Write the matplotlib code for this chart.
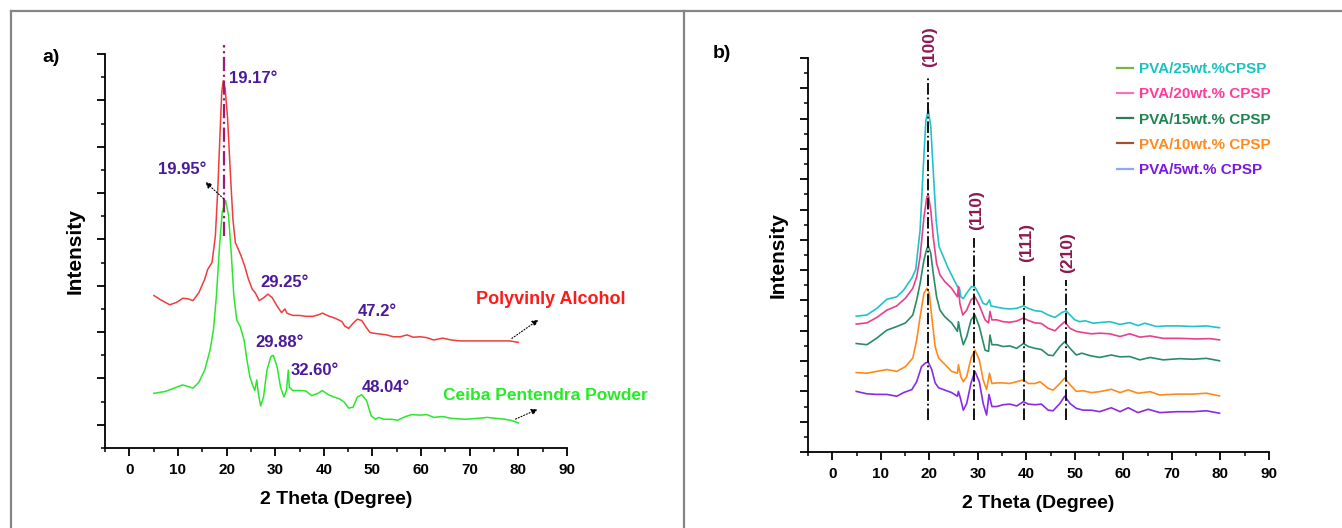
import matplotlib
matplotlib.use("Agg")
import matplotlib.pyplot as plt
from matplotlib.lines import Line2D
from matplotlib.ticker import MultipleLocator

plt.rcParams['font.family'] = ['Liberation Sans', 'DejaVu Sans']
plt.rcParams['font.weight'] = 'bold'

# ---- panel a data (2 theta, offset intensity) ----
pva_x = [5.06, 6.4, 8.3, 9.7, 11.0, 12.0, 13.1, 14.3, 15.5, 16.1, 17.0, 17.7, 18.2, 18.7, 19.0,
         19.3, 19.7, 20.2, 20.8, 21.3, 21.8, 22.4, 23.0, 23.7, 24.5, 25.3, 25.9, 26.7, 27.6, 28.5,
         29.4, 30.4, 31.3, 32.0, 32.4, 33.6, 35.0, 36.3, 37.7, 38.8, 39.7, 40.9, 42.3, 43.7, 44.3,
         45.1, 46.0, 46.9, 47.8, 48.6, 49.5, 50.6, 51.5, 52.9, 54.3, 55.7, 57.1, 58.4, 59.8, 61.2,
         62.6, 64.4, 66.2, 68.1, 70.8, 73.6, 76.4, 78.2, 80.0]
pva_y = [2.79, 2.70, 2.59, 2.64, 2.73, 2.72, 2.68, 2.85, 3.14, 3.35, 3.50, 4.08, 5.10, 6.40, 7.17,
         7.42, 7.26, 6.62, 5.39, 4.44, 3.93, 3.79, 3.64, 3.43, 3.14, 2.92, 2.85, 2.68, 2.74, 2.82,
         2.74, 2.56, 2.42, 2.50, 2.41, 2.36, 2.36, 2.34, 2.34, 2.37, 2.41, 2.35, 2.30, 2.23, 2.13,
         2.08, 2.19, 2.28, 2.25, 2.12, 1.99, 1.97, 1.96, 1.94, 1.90, 1.90, 1.94, 1.89, 1.90, 1.88,
         1.83, 1.87, 1.83, 1.81, 1.81, 1.81, 1.81, 1.81, 1.78]

cpp_x = [5.06, 7.4, 9.2, 10.9, 12.0, 13.1, 14.3, 15.5, 16.6, 17.3, 17.9, 18.6, 19.1, 19.8, 20.4,
         21.0, 21.5, 22.1, 22.8, 23.6, 24.2, 24.8, 25.4, 25.8, 26.2, 26.5, 27.0, 27.6, 28.3, 29.1,
         29.6, 30.4, 31.1, 31.8, 32.3, 32.7, 32.9, 33.6, 35.0, 36.3, 37.5, 38.8, 39.7, 40.9, 42.1,
         43.2, 44.2, 45.1, 46.0, 46.9, 47.8, 48.8, 49.7, 50.6, 51.3, 52.4, 53.8, 55.2, 56.6, 58.0,
         59.8, 61.2, 62.6, 64.4, 66.2, 69.0, 71.8, 73.6, 75.4, 77.3, 78.7, 80.0]
cpp_y = [0.68, 0.72, 0.79, 0.86, 0.83, 0.79, 0.92, 1.18, 1.61, 2.05, 2.77, 3.93, 4.59, 4.84, 4.52,
         3.64, 2.77, 2.26, 2.12, 1.83, 1.39, 1.03, 0.85, 0.74, 0.97, 0.70, 0.41, 0.60, 1.18, 1.47,
         1.50, 1.25, 0.81, 0.60, 0.74, 1.18, 0.81, 0.74, 0.74, 0.73, 0.63, 0.68, 0.74, 0.65, 0.60,
         0.56, 0.49, 0.36, 0.38, 0.60, 0.65, 0.52, 0.20, 0.12, 0.16, 0.12, 0.12, 0.10, 0.17, 0.22,
         0.21, 0.22, 0.16, 0.18, 0.14, 0.12, 0.14, 0.16, 0.14, 0.12, 0.09, 0.04]

peak_labels_a = ["19.17°", "19.95°", "29.25°", "47.2°", "29.88°", "32.60°", "48.04°"]
peak_pos_a = [(20.4, 7.48), (6.0, 5.5), (27.0, 3.08), (46.9, 2.45), (25.9, 1.78), (33.1, 1.18), (47.8, 0.81)]

# ---- panel b data ----
c25_x = [4.94, 7.13, 9.19, 11.25, 13.3, 14.7, 16.4, 17.2, 18.1, 18.8, 19.3, 19.8, 20.3, 20.8, 21.4,
         22.0, 22.9, 23.9, 24.9, 25.8, 26.2, 26.5, 27.0, 27.7, 28.7, 29.4, 30.1, 31.1, 31.8, 32.4,
         32.7, 33.9, 35.2, 36.6, 38.0, 39.4, 40.4, 41.8, 43.1, 44.5, 45.9, 47.3, 48.2, 49.0, 50.0,
         51.0, 52.1, 53.8, 55.1, 57.2, 59.3, 61.3, 63.0, 64.4, 66.8, 68.9, 71.6, 74.3, 77.1, 79.8]
c25_y = [4.48, 4.52, 4.74, 5.04, 5.12, 5.34, 5.74, 6.02, 7.32, 9.52, 10.96, 11.28, 10.74, 9.30, 7.66,
         6.78, 6.44, 6.06, 5.74, 5.46, 5.42, 5.12, 5.06, 5.24, 5.46, 5.44, 5.24, 4.90, 4.86, 5.02,
         4.82, 4.78, 4.74, 4.72, 4.74, 4.82, 4.74, 4.66, 4.64, 4.52, 4.44, 4.60, 4.66, 4.52, 4.36,
         4.30, 4.33, 4.25, 4.27, 4.30, 4.21, 4.27, 4.17, 4.25, 4.14, 4.16, 4.16, 4.14, 4.16, 4.10]

c20_x = [4.94, 7.13, 9.19, 11.25, 13.3, 15.1, 16.6, 17.4, 18.1, 18.9, 19.5, 19.8, 20.3, 20.8, 21.5,
         22.2, 23.2, 24.6, 25.8, 26.0, 26.3, 26.9, 27.7, 28.6, 29.4, 30.3, 31.5, 32.2, 32.5, 32.9,
         33.9, 35.2, 36.6, 38.0, 39.4, 40.4, 41.8, 43.1, 44.5, 45.9, 46.9, 47.9, 49.0, 50.3, 51.7,
         53.4, 55.1, 57.2, 59.3, 61.3, 63.4, 65.5, 68.2, 71.6, 75.1, 77.8, 79.8]
c20_y = [4.22, 4.26, 4.44, 4.68, 4.82, 5.08, 5.40, 5.78, 6.44, 7.76, 8.42, 8.48, 7.98, 7.10, 6.22,
         5.84, 5.62, 5.40, 5.12, 5.46, 4.90, 4.52, 4.68, 5.02, 5.12, 4.84, 4.36, 4.26, 4.64, 4.36,
         4.36, 4.30, 4.28, 4.32, 4.42, 4.34, 4.26, 4.24, 4.08, 4.00, 4.16, 4.30, 4.08, 3.98, 3.94,
         3.90, 3.92, 3.90, 3.81, 3.90, 3.79, 3.83, 3.75, 3.75, 3.73, 3.74, 3.70]

c15_x = [4.94, 7.13, 9.19, 11.25, 13.3, 15.1, 16.6, 17.4, 18.1, 18.9, 19.5, 19.8, 20.3, 20.8, 21.5,
         22.2, 23.2, 24.6, 25.8, 26.0, 26.5, 27.0, 27.7, 28.6, 29.4, 30.3, 31.5, 32.2, 32.5, 32.9,
         33.9, 35.2, 36.6, 38.0, 39.4, 40.4, 41.8, 43.1, 44.5, 45.5, 46.9, 47.9, 49.0, 50.3, 51.4,
         53.1, 55.1, 57.5, 59.3, 61.3, 63.4, 65.5, 68.2, 71.6, 74.3, 77.1, 79.8]
c15_y = [3.58, 3.54, 3.76, 4.02, 4.14, 4.26, 4.52, 5.02, 5.56, 6.34, 6.72, 6.80, 6.56, 5.90, 5.12,
         4.68, 4.46, 4.26, 3.98, 4.30, 3.86, 3.54, 3.80, 4.36, 4.52, 4.14, 3.36, 3.32, 3.86, 3.54,
         3.54, 3.48, 3.50, 3.42, 3.58, 3.48, 3.42, 3.38, 3.20, 3.18, 3.48, 3.64, 3.42, 3.20, 3.26,
         3.18, 3.12, 3.20, 3.14, 3.15, 3.04, 3.12, 3.04, 3.08, 3.06, 3.09, 3.01]

c10_x = [4.94, 7.13, 9.19, 11.25, 13.3, 15.1, 16.6, 17.4, 18.1, 18.9, 19.5, 20.0, 20.5, 21.2, 21.9,
         22.9, 24.6, 25.8, 26.0, 26.5, 27.0, 27.7, 28.6, 29.4, 30.3, 31.1, 31.8, 32.4, 32.9, 33.9,
         35.2, 36.6, 38.0, 39.4, 40.4, 41.8, 42.8, 44.5, 45.5, 46.9, 47.9, 49.0, 50.3, 51.7, 53.4,
         55.1, 57.5, 59.3, 61.0, 63.0, 65.5, 67.5, 70.9, 74.3, 77.1, 79.8]
c10_y = [2.62, 2.60, 2.66, 2.72, 2.66, 2.82, 3.10, 3.70, 4.46, 5.24, 5.40, 5.24, 4.46, 3.48, 3.10,
         2.94, 2.66, 2.60, 2.88, 2.48, 2.32, 2.48, 3.10, 3.36, 3.04, 2.38, 2.06, 2.60, 2.26, 2.28,
         2.28, 2.26, 2.32, 2.38, 2.26, 2.26, 2.32, 2.10, 2.04, 2.26, 2.44, 2.22, 2.00, 2.02, 1.96,
         1.99, 2.07, 1.96, 2.05, 1.94, 1.99, 1.88, 1.91, 1.91, 1.94, 1.85]

c5_x = [4.94, 7.13, 9.19, 11.25, 13.3, 14.7, 16.4, 17.4, 18.4, 19.2, 19.8, 20.5, 21.2, 21.9, 22.9,
        24.6, 25.8, 26.0, 26.5, 27.0, 27.7, 28.6, 29.4, 30.3, 31.1, 31.8, 32.3, 32.9, 33.9, 35.2,
        36.6, 38.0, 39.4, 40.4, 41.8, 43.1, 44.5, 45.5, 46.9, 47.9, 49.0, 50.3, 51.7, 53.4,
        55.1, 57.5, 59.3, 61.0, 63.0, 65.1, 67.5, 70.9, 74.3, 77.1, 79.8]
c5_y = [2.00, 1.92, 1.90, 1.90, 1.84, 1.96, 2.06, 2.32, 2.82, 2.94, 2.96, 2.72, 2.28, 2.12, 2.06,
        1.96, 1.84, 2.00, 1.72, 1.38, 1.60, 2.28, 2.66, 2.32, 1.60, 1.22, 1.90, 1.50, 1.50, 1.56,
        1.58, 1.52, 1.66, 1.58, 1.56, 1.58, 1.38, 1.36, 1.60, 1.84, 1.60, 1.44, 1.38, 1.38,
        1.33, 1.46, 1.33, 1.46, 1.30, 1.41, 1.30, 1.33, 1.33, 1.36, 1.28]

series_names = ["PVA/25wt.%CPSP", "PVA/20wt.% CPSP", "PVA/15wt.% CPSP", "PVA/10wt.% CPSP", "PVA/5wt.% CPSP"]
line_colors = ["#22C3C8", "#E8408E", "#2A8C66", "#FF8A1C", "#8A2BE8"]
handle_colors = ["#7CB342", "#FF6FB5", "#2E7D55", "#A0522D", "#8FA8FF"]
text_colors = ["#19C3C3", "#FF3C9C", "#1E8550", "#FF8A1E", "#7A1AE0"]

hkl_labels = ["(100)", "(110)", "(111)", "(210)"]
hkl_x = [19.8, 29.3, 39.5, 48.2]
hkl_top = [12.39, 7.06, 5.81, 5.68]
hkl_text_pos = [(20.0, 13.37), (29.8, 7.99), (40.1, 6.90), (48.5, 6.57)]

fig = plt.figure(figsize=(13.42, 5.28), dpi=100)

# outer frame lines
gray = "#858585"
fig.add_artist(Line2D([11 / 1342, 1], [1 - 11 / 528, 1 - 11 / 528], color=gray, lw=1.6))
fig.add_artist(Line2D([11 / 1342, 11 / 1342], [0, 1 - 11 / 528], color=gray, lw=1.6))
fig.add_artist(Line2D([684 / 1342, 684 / 1342], [0, 1 - 11 / 528], color=gray, lw=1.6))

ax1 = fig.add_axes([105 / 1342, 1 - 448 / 528, 462 / 1342, 394 / 528])
ax2 = fig.add_axes([808 / 1342, 1 - 452 / 528, 461 / 1342, 394 / 528])


def style_axis(ax):
    for s in ["top", "right"]:
        ax.spines[s].set_visible(False)
    for s in ["left", "bottom"]:
        ax.spines[s].set_linewidth(1.3)
    ax.xaxis.set_major_locator(MultipleLocator(10))
    ax.xaxis.set_minor_locator(MultipleLocator(5))
    ax.yaxis.set_major_locator(MultipleLocator(1))
    ax.yaxis.set_minor_locator(MultipleLocator(0.5))
    ax.tick_params(which="major", direction="out", length=6, width=1.3, labelsize=11, pad=5)
    ax.tick_params(which="minor", direction="out", length=3, width=1.1)
    ax.tick_params(axis="y", which="both", labelleft=False)
    ax.set_xlim(-5, 90)
    ax.set_xlabel("2 Theta (Degree)", fontsize=14, fontweight="bold", labelpad=10)
    ax.set_ylabel("Intensity", fontsize=15, fontweight="bold", labelpad=9)
    for lab in ax.get_xticklabels():
        lab.set_fontweight("bold")


# ---- panel a ----
style_axis(ax1)
ax1.set_ylim(-0.5, 8)
ax1.plot(pva_x, pva_y, color="#F03C3C", lw=1.1)
ax1.plot(cpp_x, cpp_y, color="#2CE62C", lw=1.1)
ax1.plot([19.5, 19.5], [4.07, 8.19], color="#9B1B6E", lw=1.6, linestyle="-.", clip_on=False)

for lab, (px, py) in zip(peak_labels_a, peak_pos_a):
    ax1.text(px, py, lab, color="#4B1A9B", fontsize=12, fontweight="bold", va="center", ha="left")

ax1.text(71.3, 2.71, "Polyvinly Alcohol", color="#FF1A1A", fontsize=13, fontweight="bold",
         va="center", ha="left", clip_on=False)
ax1.text(64.4, 0.63, "Ceiba Pentendra Powder", color="#22EE22", fontsize=12.5, fontweight="bold",
         va="center", ha="left", clip_on=False)

arrow_kw = dict(arrowstyle="-|>", color="black", lw=0.8, linestyle=":", mutation_scale=9)
ax1.annotate("", xy=(15.2, 5.28), xytext=(19.8, 4.84), arrowprops=arrow_kw)
ax1.annotate("", xy=(84.6, 2.30), xytext=(78.2, 1.83), arrowprops=arrow_kw, annotation_clip=False)
ax1.annotate("", xy=(84.5, 0.36), xytext=(78.9, 0.10), arrowprops=arrow_kw, annotation_clip=False)

fig.text(42 / 1342, 1 - 57 / 528, "a)", fontsize=14, fontweight="bold", va="center", ha="left")

# ---- panel b ----
style_axis(ax2)
ax2.set_ylim(0, 13)
xs = [c25_x, c20_x, c15_x, c10_x, c5_x]
ys = [c25_y, c20_y, c15_y, c10_y, c5_y]
for x, y, col in zip(xs, ys, line_colors):
    ax2.plot(x, y, color=col, lw=1.2)

for lab, hx, top, (tx, ty) in zip(hkl_labels, hkl_x, hkl_top, hkl_text_pos):
    ax2.plot([hx, hx], [1.06, top], color="black", lw=1.3, linestyle="-.", clip_on=False)
    ax2.text(tx, ty, lab, color="#8B1A50", fontsize=12.5, fontweight="bold", rotation=90,
             va="center", ha="center", clip_on=False)

handles = [Line2D([], [], color=c, lw=1.6) for c in handle_colors]
leg = ax2.legend(handles, series_names, loc="upper left", bbox_to_anchor=(0.641, 1.025),
                 frameon=False, handlelength=1.0, handletextpad=0.45, labelspacing=0.74,
                 prop={"weight": "bold", "size": 11})
for t, c in zip(leg.get_texts(), text_colors):
    t.set_color(c)

fig.text(713 / 1342, 1 - 53 / 528, "b)", fontsize=14, fontweight="bold", va="center", ha="left")

fig.savefig("out.png", dpi=100)
